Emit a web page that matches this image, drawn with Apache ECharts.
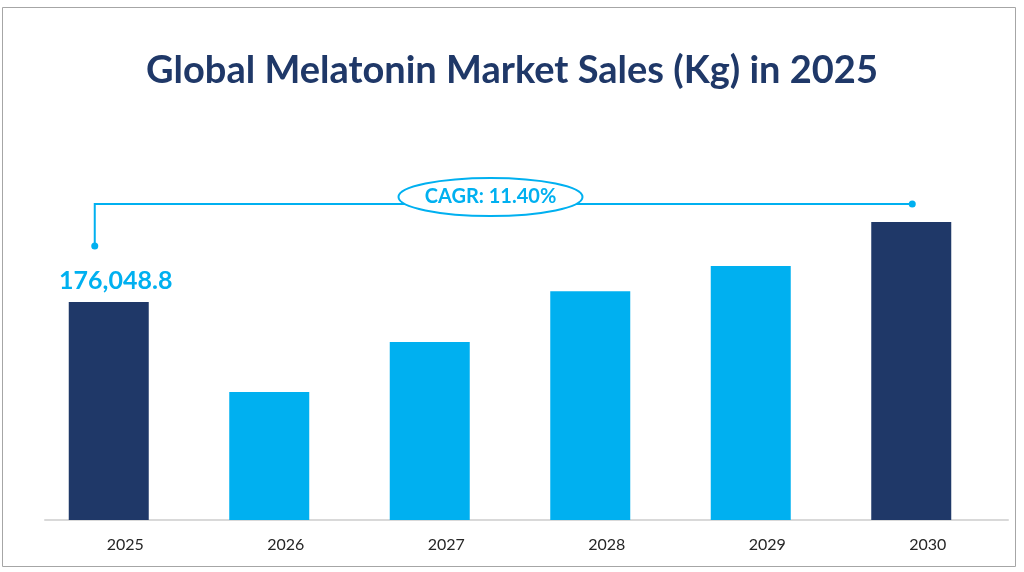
<!DOCTYPE html>
<html><head><meta charset="utf-8">
<script src="https://cdn.jsdelivr.net/npm/echarts@6/dist/echarts.min.js"></script>
<style>html,body{margin:0;padding:0;background:#fff}#c{width:1024px;height:572px}</style>
</head><body><div id="c"></div>
<script>
const titleText = 'Global Melatonin Market Sales (Kg) in 2025';
const categories = ['2025','2026','2027','2028','2029','2030'];
const values = [176048.8, 103400, 143750, 184700, 205100, 240700];
const barColors = ['#1f3868','#00b0f0','#00b0f0','#00b0f0','#00b0f0','#1f3868'];
const cagrText = 'CAGR: 11.40%';
const firstLabel = '176,048.8';

const chart = echarts.init(document.getElementById('c'));
chart.setOption({
  animation:false,
  title:{text:titleText,left:'center',top:47,textStyle:{fontFamily:'Lato',fontWeight:'bold',fontSize:38,color:'#1f3868'}},
  grid:{left:45,right:16,top:222,bottom:52},
  xAxis:{type:'category',data:categories,axisTick:{show:false},
    axisLine:{lineStyle:{color:'#d9d9d9',width:2}},
    axisLabel:{margin:17,fontFamily:'Lato',fontSize:16,color:'#262626'}},
  yAxis:{type:'value',min:0,max:values[5],show:false,splitLine:{show:false}},
  series:[{type:'bar',barWidth:80,
    data:values.map((v,i)=>({value:v,itemStyle:{color:barColors[i]},
      label:i===0?{show:true,position:'top',distance:9,offset:[7,0],formatter:firstLabel,fontFamily:'Lato',fontWeight:'bold',fontSize:25,color:'#00b0f0'}:{show:false}}))},
    {type:'bar',barWidth:33,barGap:'0%',silent:true,data:categories.map(()=>'-')}]
});
const sd = chart.getModel().getSeriesByIndex(0).getData();
const l0 = sd.getItemLayout(0), l5 = sd.getItemLayout(5);
const c0 = l0.x + l0.width/2, top0 = l0.y + l0.height;
const c5 = l5.x + l5.width/2, top5 = l5.y + l5.height;
const lx = c0-14, rx = c5+1, by = top5-18, ly = top0-56;
const mx = (lx+rx)/2 - 13;
const c = '#00b0f0';
chart.setOption({graphic:[
  {type:'rect',shape:{x:2.5,y:7.5,width:1013,height:559},style:{fill:'none',stroke:'#a6a6a6',lineWidth:1}},
  {type:'polyline',shape:{points:[[lx,ly],[lx,by],[rx,by]]},style:{stroke:c,lineWidth:2,fill:'none'}},
  {type:'circle',shape:{cx:lx,cy:ly,r:3.5},style:{fill:c}},
  {type:'circle',shape:{cx:rx,cy:by,r:3.5},style:{fill:c}},
  {type:'ellipse',shape:{cx:mx,cy:by-7,rx:92,ry:19},style:{fill:'#fff',stroke:c,lineWidth:2}},
  {type:'text',x:mx,y:by-7,style:{text:cagrText,align:'center',verticalAlign:'middle',fontFamily:'Lato',fontWeight:'bold',fontSize:20,fill:c}}
]});
</script></body></html>
